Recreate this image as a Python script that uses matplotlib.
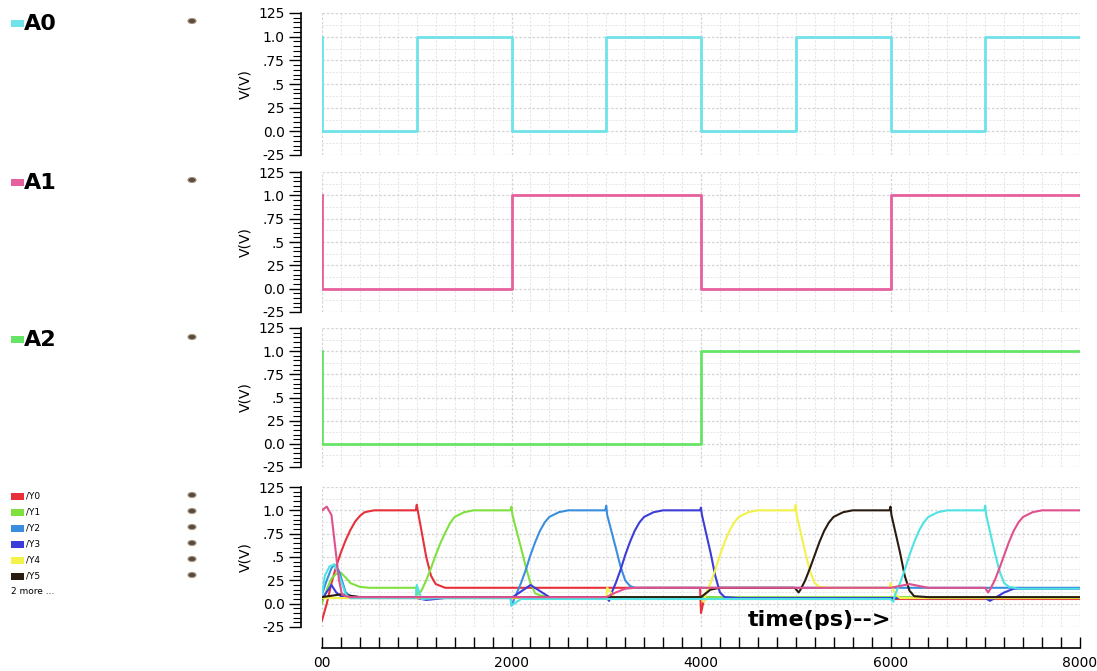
import matplotlib
matplotlib.use("Agg")
import matplotlib.pyplot as plt
from matplotlib.patches import Ellipse, Rectangle
from matplotlib.ticker import MultipleLocator

# input waveforms (ps, V)
t_a0 = [0, 0, 1000, 1000, 2000, 2000, 3000, 3000, 4000, 4000, 5000, 5000, 6000, 6000, 7000, 7000, 8000]
v_a0 = [1.0, 0.0, 0.0, 1.0, 1.0, 0.0, 0.0, 1.0, 1.0, 0.0, 0.0, 1.0, 1.0, 0.0, 0.0, 1.0, 1.0]
t_a1 = [0, 0, 2000, 2000, 4000, 4000, 6000, 6000, 8000]
v_a1 = [1.0, 0.0, 0.0, 1.0, 1.0, 0.0, 0.0, 1.0, 1.0]
t_a2 = [0, 0, 4000, 4000, 8000]
v_a2 = [1.0, 0.0, 0.0, 1.0, 1.0]

# decoder outputs (ps, V)
t_y0 = [0, 50, 100, 150, 200, 250, 300, 350, 400, 450, 550, 990, 1000, 1010, 1050, 1100, 1150, 1200, 1300,
        3990, 4000, 4030, 4100, 4300, 8000]
v_y0 = [-0.18, 0.0, 0.22, 0.4, 0.55, 0.68, 0.79, 0.88, 0.94, 0.98, 1.0, 1.0, 1.06, 1.0, 0.78, 0.5, 0.3, 0.21, 0.17,
        0.17, -0.1, 0.04, 0.07, 0.05, 0.05]

t_y1 = [0, 50, 100, 150, 200, 250, 300, 400, 500, 990, 1010, 1050, 1100, 1150, 1200, 1250, 1300, 1350, 1400,
        1500, 1600, 1990, 2000, 2010, 2100, 2150, 2200, 2250, 2300, 2400, 8000]
v_y1 = [0.0, 0.15, 0.27, 0.32, 0.33, 0.28, 0.22, 0.18, 0.17, 0.17, 0.1, 0.14, 0.25, 0.38, 0.52, 0.65, 0.76, 0.86,
        0.93, 0.98, 1.0, 1.0, 1.04, 0.95, 0.6, 0.4, 0.22, 0.11, 0.09, 0.07, 0.07]

t_y2 = [0, 50, 100, 130, 180, 250, 300, 400, 1000, 1050, 1200, 1990, 2000, 2030, 2050, 2100, 2150, 2200, 2250,
        2300, 2350, 2400, 2500, 2600, 2990, 3000, 3010, 3100, 3150, 3200, 3250, 3300, 3400, 8000]
v_y2 = [0.1, 0.25, 0.38, 0.42, 0.35, 0.12, 0.08, 0.07, 0.07, 0.05, 0.06, 0.07, -0.02, 0.05, 0.1, 0.22, 0.36, 0.52,
        0.66, 0.78, 0.87, 0.93, 0.98, 1.0, 1.0, 1.05, 0.95, 0.6, 0.4, 0.25, 0.19, 0.17, 0.17, 0.17]

t_y3 = [0, 100, 150, 200, 300, 1000, 1100, 1300, 2000, 2200, 2400, 3000, 3030, 3050, 3100, 3150, 3200, 3250, 3300,
        3350, 3400, 3500, 3600, 3990, 4000, 4010, 4100, 4150, 4200, 4250, 4400, 7000, 7050, 7100, 7200, 7300, 8000]
v_y3 = [0.05, 0.2, 0.12, 0.08, 0.06, 0.06, 0.04, 0.06, 0.06, 0.2, 0.07, 0.07, 0.03, 0.1, 0.22, 0.36, 0.52, 0.66,
        0.78, 0.87, 0.93, 0.98, 1.0, 1.0, 1.03, 0.95, 0.55, 0.3, 0.12, 0.07, 0.06, 0.06, 0.03, 0.06, 0.12, 0.16, 0.16]

t_y4 = [0, 3000, 3010, 3100, 3990, 4000, 4030, 4050, 4100, 4150, 4200, 4250, 4300, 4350, 4400, 4500, 4600, 4990,
        5000, 5010, 5100, 5150, 5200, 5250, 5350, 5990, 6000, 6050, 6100, 8000]
v_y4 = [0.06, 0.06, 0.17, 0.05, 0.05, 0.06, 0.02, 0.1, 0.22, 0.36, 0.52, 0.66, 0.78, 0.87, 0.93, 0.98, 1.0, 1.0,
        1.06, 0.95, 0.55, 0.35, 0.22, 0.18, 0.17, 0.17, 0.22, 0.1, 0.06, 0.06]

t_y5 = [0, 200, 400, 4000, 4100, 4200, 4990, 5030, 5050, 5100, 5150, 5200, 5250, 5300, 5350, 5400, 5500, 5600,
        5990, 6000, 6010, 6100, 6150, 6200, 6250, 6400, 8000]
v_y5 = [0.07, 0.1, 0.07, 0.07, 0.15, 0.17, 0.17, 0.12, 0.15, 0.25, 0.38, 0.52, 0.66, 0.78, 0.87, 0.93, 0.98, 1.0,
        1.0, 1.04, 0.95, 0.55, 0.3, 0.14, 0.08, 0.07, 0.07]

t_y6 = [0, 30, 80, 130, 180, 250, 300, 400, 990, 1000, 1050, 1200, 1990, 2000, 2100, 6000, 6030, 6050, 6100, 6150,
        6200, 6250, 6300, 6350, 6400, 6500, 6600, 6990, 7000, 7010, 7100, 7150, 7200, 7250, 7350, 8000]
v_y6 = [0.1, 0.3, 0.4, 0.42, 0.3, 0.1, 0.06, 0.06, 0.06, 0.2, 0.05, 0.06, 0.06, -0.02, 0.05, 0.05, 0.02, 0.1, 0.22,
        0.36, 0.52, 0.66, 0.78, 0.87, 0.93, 0.98, 1.0, 1.0, 1.05, 0.95, 0.55, 0.35, 0.22, 0.18, 0.16, 0.16]

t_y7 = [0, 50, 100, 140, 180, 210, 250, 300, 400, 3000, 3100, 3200, 3300, 6000, 6200, 6400, 7000, 7030, 7050, 7100,
        7150, 7200, 7250, 7300, 7350, 7400, 7500, 7600, 8000]
v_y7 = [1.0, 1.04, 0.95, 0.6, 0.25, 0.1, 0.08, 0.07, 0.07, 0.07, 0.12, 0.16, 0.17, 0.17, 0.21, 0.17, 0.17, 0.12,
        0.15, 0.25, 0.38, 0.52, 0.66, 0.78, 0.87, 0.93, 0.98, 1.0, 1.0]

y_names = ["/Y0", "/Y1", "/Y2", "/Y3", "/Y4", "/Y5"]
y_colors = ["#e8303a", "#80e040", "#3a8ee0", "#3c3cd8", "#f2f24a", "#2a1c10", "#4fe3e3", "#e0508c"]
in_names = ["A0", "A1", "A2"]
in_colors = ["#6fe2ea", "#e6609e", "#66e466"]

ytick_vals = [-0.25, 0.0, 0.25, 0.5, 0.75, 1.0, 1.25]
ytick_lbls = ["-25", "0.0", "25", ".5", ".75", "1.0", "125"]
xtick_vals = [0, 2000, 4000, 6000, 8000]
xtick_lbls = ["00", "2000", "4000", "6000", "8000"]

W, H = 1097, 671
fig = plt.figure(figsize=(W / 100, H / 100), dpi=100)

# panel boxes in pixels: top, bottom
panels = [(13, 155), (172, 312), (328, 467), (487, 627)]
x0, x1 = 322, 1080
narrow = ["Liberation Sans Narrow", "DejaVu Sans"]
grid_major = "#d4d4d4"
grid_minor = "#e6e6e6"

axes = []
for i, (top, bot) in enumerate(panels):
    ax = fig.add_axes([x0 / W, 1 - bot / H, (x1 - x0) / W, (bot - top) / H])
    ax.set_xlim(0, 8000)
    ax.set_ylim(-0.25, 1.25)
    for s in ["top", "right"]:
        ax.spines[s].set_visible(False)
    ax.spines["left"].set_position(("outward", 15))
    ax.spines["left"].set_linewidth(1.2)
    ax.set_yticks(ytick_vals)
    ax.set_yticklabels(ytick_lbls, family=narrow, fontsize=10)
    ax.yaxis.set_minor_locator(MultipleLocator(0.05))
    ax.tick_params(axis="y", which="major", length=9, width=1.0, pad=3)
    ax.tick_params(axis="y", which="minor", length=6, width=0.8)
    ax.set_ylabel("V(V)", family=narrow, fontsize=10, labelpad=4)
    # grid
    ax.xaxis.set_minor_locator(MultipleLocator(200))
    ax.set_xticks(xtick_vals)
    ax.grid(True, axis="x", which="minor", color=grid_minor, linestyle=(0, (2, 1.5)), linewidth=0.8)
    ax.grid(True, axis="x", which="major", color=grid_major, linestyle=(0, (2, 1.5)), linewidth=0.9)
    ax.grid(True, axis="y", which="major", color=grid_major, linestyle=(0, (2, 1.5)), linewidth=0.9)
    for g in [-0.125, 0.125, 0.375, 0.625, 0.875, 1.125]:
        ax.axhline(g, color=grid_minor, linestyle=(0, (2, 1.5)), linewidth=0.7, zorder=0)
    ax.set_axisbelow(True)
    if i < 3:
        ax.spines["bottom"].set_visible(False)
        ax.tick_params(axis="x", which="both", bottom=False, labelbottom=False)
    else:
        ax.spines["bottom"].set_position(("outward", 15))
        ax.spines["bottom"].set_linewidth(1.2)
        ax.set_xticklabels(xtick_lbls, family=narrow, fontsize=10)
        ax.tick_params(axis="x", which="both", direction="in", length=8, width=1.0, pad=6)
    axes.append(ax)

axes[0].plot(t_a0, v_a0, color=in_colors[0], lw=2)
axes[1].plot(t_a1, v_a1, color=in_colors[1], lw=2)
axes[2].plot(t_a2, v_a2, color=in_colors[2], lw=2)

ys = [(t_y0, v_y0), (t_y1, v_y1), (t_y2, v_y2), (t_y3, v_y3),
      (t_y4, v_y4), (t_y5, v_y5), (t_y6, v_y6), (t_y7, v_y7)]
for (t, v), c in zip(ys, y_colors):
    axes[3].plot(t, v, color=c, lw=1.5)

fig.text(748 / W, 1 - 620 / H, "time(ps)-->", fontsize=16, fontweight="bold", va="center", ha="left")


def eye(px, py):
    fig.add_artist(Ellipse((px / W, 1 - py / H), 8 / W, 5 / H, transform=fig.transFigure,
                           facecolor="#5a4a38", edgecolor="#a09080", lw=0.8))


# signal names on the left
for name, c, py in zip(in_names, in_colors, [24, 183, 340]):
    fig.add_artist(Rectangle((11 / W, 1 - (py + 3) / H), 13 / W, 7 / H, transform=fig.transFigure,
                             facecolor=c, edgecolor="none"))
    fig.text(24 / W, 1 - py / H, name, fontsize=16, fontweight="bold", va="center", ha="left")
    eye(192, py - 3)

for k, (name, c) in enumerate(zip(y_names, y_colors)):
    py = 496 + k * 16
    fig.add_artist(Rectangle((11 / W, 1 - (py + 3.5) / H), 13 / W, 7 / H, transform=fig.transFigure,
                             facecolor=c, edgecolor="none"))
    fig.text(26 / W, 1 - py / H, name, fontsize=6.5, family=narrow, va="center", ha="left")
    eye(192, py - 1)
fig.text(11 / W, 1 - 592 / H, "2 more ...", fontsize=6.5, family=narrow, va="center", ha="left")

fig.savefig("out.png", dpi=100)
